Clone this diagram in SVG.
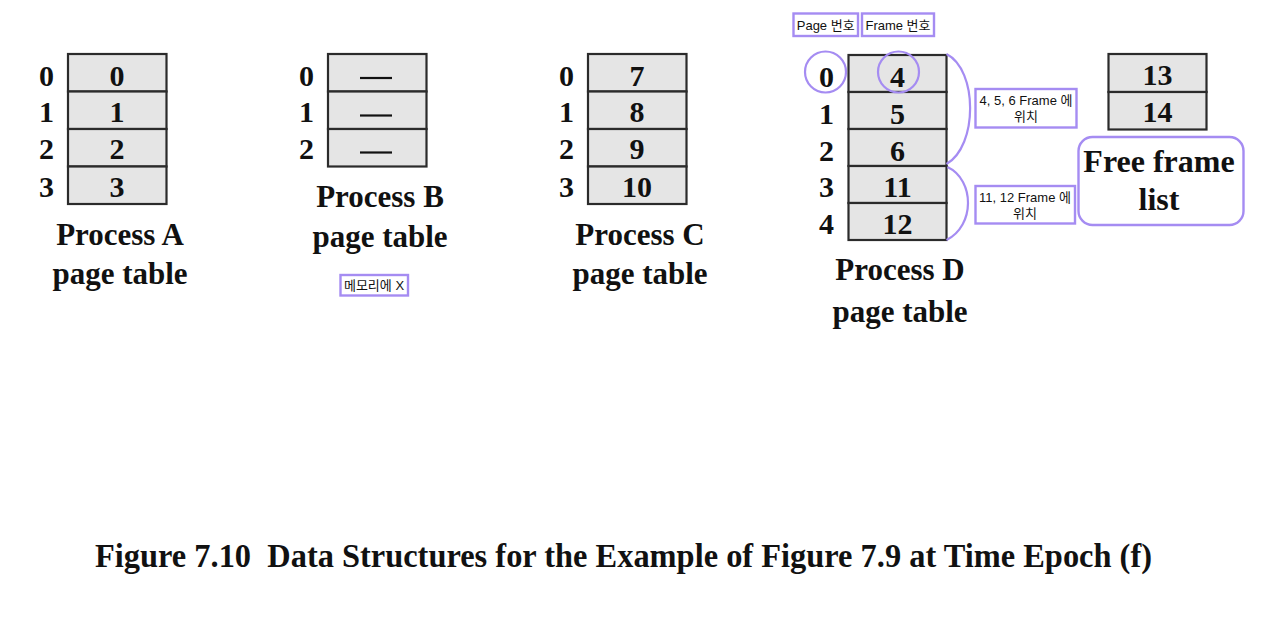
<svg xmlns="http://www.w3.org/2000/svg" width="1280" height="618" viewBox="0 0 1280 618">
<style>
.cell{fill:#e5e5e5;stroke:#2b2b2b;stroke-width:2.2}
.num{font-family:"Liberation Serif","Times New Roman",serif;font-weight:bold;font-size:30px;fill:#111;text-anchor:middle}
.lbl{font-family:"Liberation Serif","Times New Roman",serif;font-weight:bold;font-size:31px;fill:#111;text-anchor:middle}
.note{fill:#fff;stroke:#a58cf2;stroke-width:2.4}
.ann{stroke:#a58cf2;stroke-width:2.2;fill:none}
.sm{font-family:"Liberation Sans",Arial,"Noto Sans CJK KR",sans-serif;font-size:13px;fill:#111;text-anchor:middle}
</style>
<rect width="1280" height="618" fill="#fff"/>

<g id="processA">
<rect class="cell" x="68" y="54" width="98.5" height="37.5"/>
<rect class="cell" x="68" y="91.5" width="98.5" height="37.5"/>
<rect class="cell" x="68" y="129" width="98.5" height="37.5"/>
<rect class="cell" x="68" y="166.5" width="98.5" height="37.5"/>
<text class="num" x="46.5" y="86">0</text><text class="num" x="117" y="86">0</text>
<text class="num" x="46.5" y="122">1</text><text class="num" x="117" y="122">1</text>
<text class="num" x="46.5" y="159">2</text><text class="num" x="117" y="159">2</text>
<text class="num" x="46.5" y="196.5">3</text><text class="num" x="117" y="196.5">3</text>
<text class="lbl" x="120" y="245">Process A</text>
<text class="lbl" x="120" y="284">page table</text>
</g>

<g id="processB">
<rect class="cell" x="328" y="54" width="98.5" height="37.5"/>
<rect class="cell" x="328" y="91.5" width="98.5" height="37.5"/>
<rect class="cell" x="328" y="129" width="98.5" height="37.5"/>
<text class="num" x="306.5" y="86">0</text><line x1="360" y1="78" x2="392" y2="78" stroke="#111" stroke-width="2.2"/>
<text class="num" x="306.5" y="122">1</text><line x1="360" y1="115.5" x2="392" y2="115.5" stroke="#111" stroke-width="2.2"/>
<text class="num" x="306.5" y="159">2</text><line x1="360" y1="152.5" x2="392" y2="152.5" stroke="#111" stroke-width="2.2"/>
<text class="lbl" x="380" y="207">Process B</text>
<text class="lbl" x="380" y="247">page table</text>
</g>

<g id="noteB">
<rect class="note" x="340.5" y="275" width="67.5" height="20.5"/>
<text class="sm" x="374" y="290">메모리에 X</text>
</g>

<g id="processC">
<rect class="cell" x="588" y="54" width="98.5" height="37.5"/>
<rect class="cell" x="588" y="91.5" width="98.5" height="37.5"/>
<rect class="cell" x="588" y="129" width="98.5" height="37.5"/>
<rect class="cell" x="588" y="166.5" width="98.5" height="37.5"/>
<text class="num" x="566.5" y="86">0</text><text class="num" x="637" y="86">7</text>
<text class="num" x="566.5" y="122">1</text><text class="num" x="637" y="122">8</text>
<text class="num" x="566.5" y="159">2</text><text class="num" x="637" y="159">9</text>
<text class="num" x="566.5" y="196.5">3</text><text class="num" x="637" y="196.5">10</text>
<text class="lbl" x="640" y="245">Process C</text>
<text class="lbl" x="640" y="284">page table</text>
</g>

<g id="processD">
<rect class="cell" x="848.5" y="55" width="98" height="37"/>
<rect class="cell" x="848.5" y="92" width="98" height="37"/>
<rect class="cell" x="848.5" y="129" width="98" height="37"/>
<rect class="cell" x="848.5" y="166" width="98" height="37"/>
<rect class="cell" x="848.5" y="203" width="98" height="37"/>
<text class="num" x="826.5" y="86.5">0</text><text class="num" x="897.5" y="86.5">4</text>
<text class="num" x="826.5" y="123.5">1</text><text class="num" x="897.5" y="123.5">5</text>
<text class="num" x="826.5" y="160.5">2</text><text class="num" x="897.5" y="160.5">6</text>
<text class="num" x="826.5" y="197">3</text><text class="num" x="897.5" y="197">11</text>
<text class="num" x="826.5" y="233.5">4</text><text class="num" x="897.5" y="233.5">12</text>
<text class="lbl" x="900" y="280">Process D</text>
<text class="lbl" x="900" y="322">page table</text>
</g>

<g id="pageCircle"><circle class="ann" cx="825.5" cy="72" r="20.5"/></g>
<g id="frameCircle"><circle class="ann" cx="898.5" cy="72" r="20.5"/></g>

<g id="pageLabel">
<rect class="note" x="793.5" y="13.5" width="64.5" height="22.5"/>
<text class="sm" x="825.7" y="29.5">Page 번호</text>
</g>
<g id="frameLabel">
<rect class="note" x="862" y="13.5" width="72" height="22.5"/>
<text class="sm" x="898" y="29.5">Frame 번호</text>
</g>

<g id="note456">
<rect class="note" x="975.5" y="89" width="101" height="38.5"/>
<text class="sm" x="1026" y="105">4, 5, 6 Frame 에</text>
<text class="sm" x="1026" y="121">위치</text>
</g>
<g id="note1112">
<rect class="note" x="975.5" y="186" width="99.5" height="37.5"/>
<text class="sm" x="1025" y="201.5">11, 12 Frame 에</text>
<text class="sm" x="1025" y="217.5">위치</text>
</g>

<g id="freeFrames">
<rect class="cell" x="1108.5" y="54" width="98" height="38"/>
<rect class="cell" x="1108.5" y="92" width="98" height="37.5"/>
<text class="num" x="1157.5" y="85">13</text>
<text class="num" x="1157.5" y="122">14</text>
</g>
<g id="freeFrameLabel">
<rect class="note" x="1078.5" y="137" width="165" height="88" rx="14"/>
<text class="lbl" x="1159" y="172" style="font-size:32px">Free frame</text>
<text class="lbl" x="1159" y="210" style="font-size:32px">list</text>
</g>

<g id="connectors">
<path class="ann" d="M946.5,54 C978,70 978,146 946.5,164"/>
<path class="ann" d="M947.5,167 C975,180 975,226 946.5,240"/>
</g>

<g id="caption">
<text x="95" y="567" font-family="Liberation Serif,'Times New Roman',serif" font-weight="bold" font-size="34" fill="#111" textLength="1057" lengthAdjust="spacingAndGlyphs">Figure 7.10&#160; Data Structures for the Example of Figure 7.9 at Time Epoch (f)</text>
</g>
</svg>
